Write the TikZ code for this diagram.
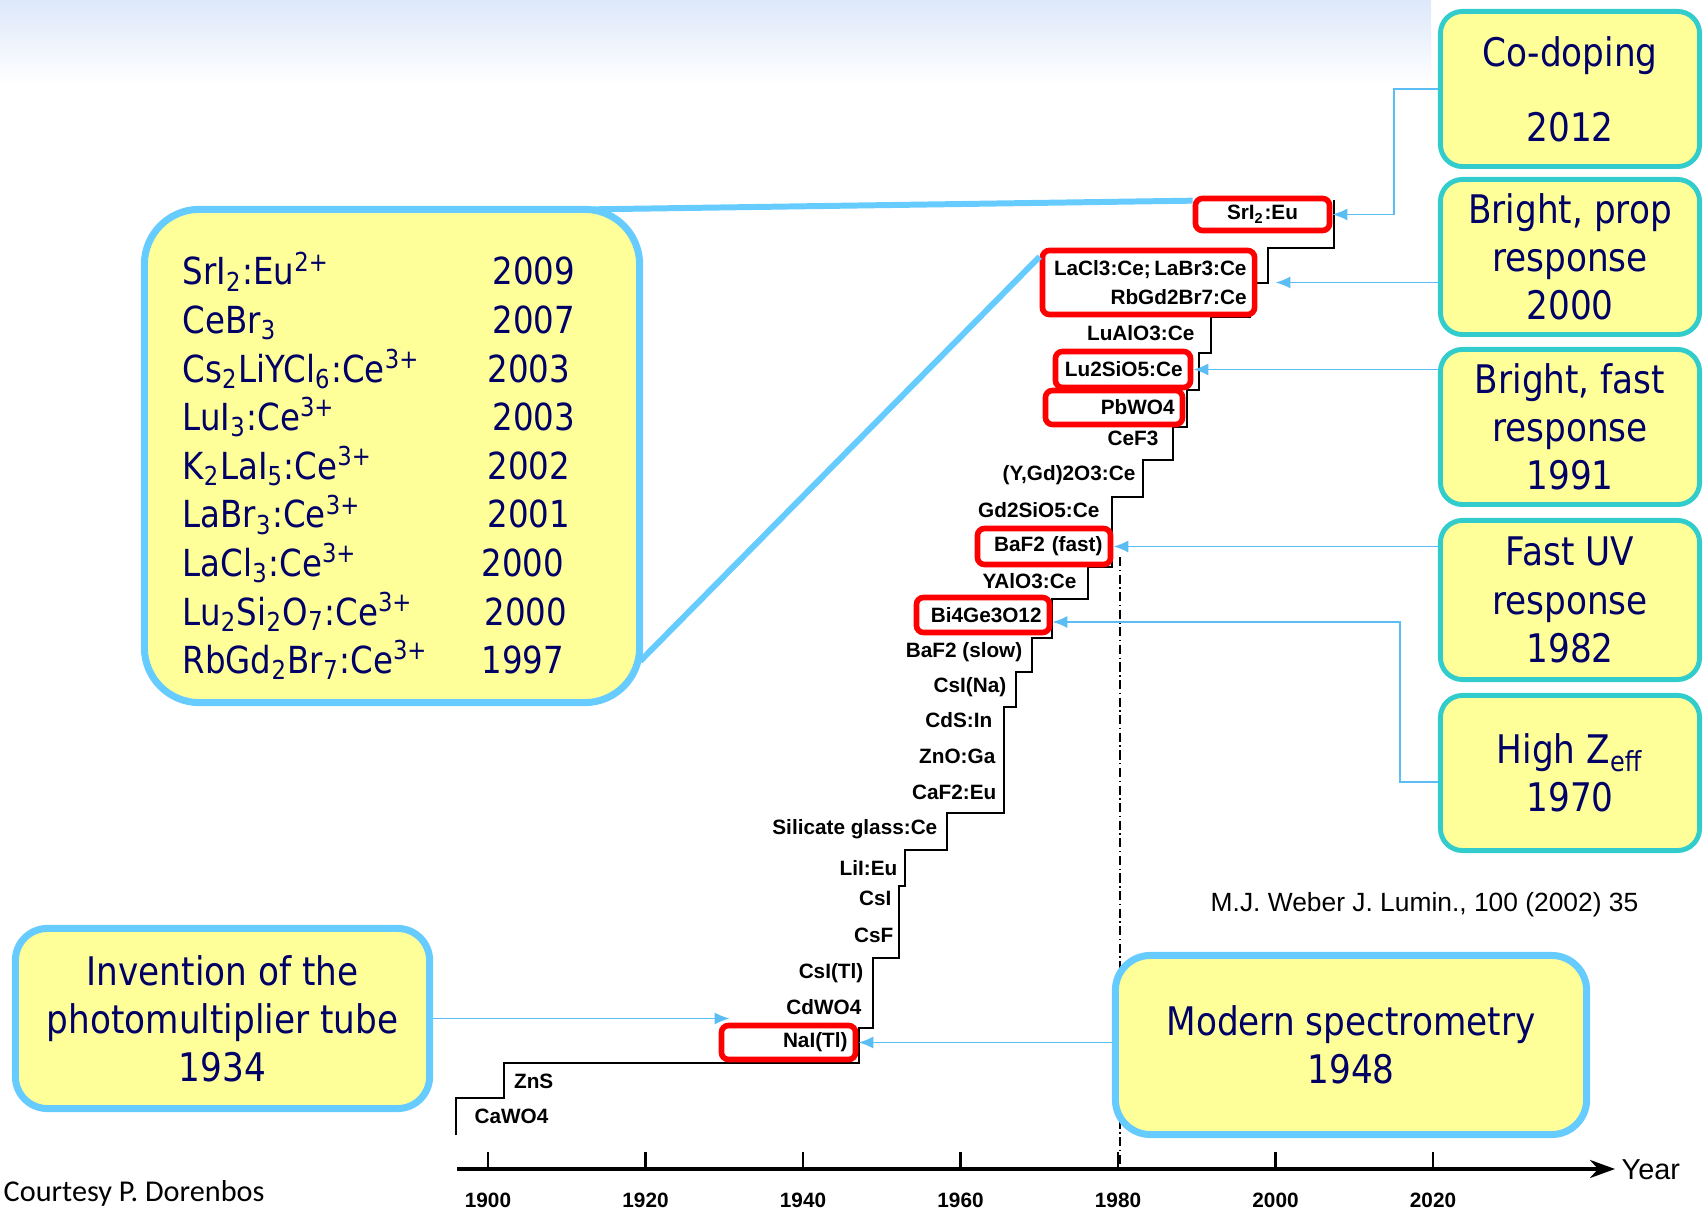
\documentclass[tikz,border=0pt]{standalone}
\usepackage{fontspec}
\setmainfont{Liberation Sans}
\newfontfamily\boxfont[FakeStretch=0.87]{DejaVu Sans}
\newfontfamily\notefont{Carlito}
\usetikzlibrary{arrows.meta,calc}
\definecolor{cNavy}{RGB}{0,0,102}
\definecolor{cYellow}{RGB}{255,255,153}
\definecolor{cTeal}{RGB}{51,204,204}
\definecolor{cSky}{RGB}{102,204,255}
\definecolor{cArrow}{RGB}{90,190,245}
\definecolor{cTop}{RGB}{221,232,250}
\tikzset{crystal/.style={
  anchor=east,
  inner sep=0,
  font=\fontsize{5.9}{7}\selectfont\bfseries,
  }
}
\tikzset{redbox/.style={
  draw=red,
  fill=white,
  line width=1.6pt,
  rounded corners=0.07cm,
  inner xsep=0.08cm,
  inner ysep=0,
  align=right,
  font=\fontsize{5.9}{8.25}\selectfont\bfseries,
  }
}
\tikzset{tealbox/.style={
  draw=cTeal,
  fill=cYellow,
  line width=1.4pt,
  rounded corners=0.22cm,
  minimum width=2.59cm,
  minimum height=1.55cm,
  inner sep=0,
  align=center,
  text=cNavy,
  font=\boxfont\fontsize{11.2}{13.7}\selectfont,
  }
}
\tikzset{skybox/.style={
  draw=cSky,
  fill=cYellow,
  line width=2pt,
  rounded corners=0.32cm,
  inner sep=0,
  align=center,
  text=cNavy,
  font=\boxfont\fontsize{11.2}{13.7}\selectfont,
  }
}
\tikzset{listrow/.style={
  anchor=base west,
  inner sep=0,
  text=cNavy,
  font=\boxfont\fontsize{10.6}{12}\selectfont,
  }
}
\tikzset{pointer/.style={
  draw=cArrow,
  line width=0.5pt,
  -{Latex[length=0.15cm,width=0.12cm]},
  }
}
\tikzset{callout/.style={
  draw=cSky,
  line width=1.7pt,
  }
}
\begin{document}
\begin{tikzpicture}[x=0.01cm,y=-0.01cm]
  \useasboundingbox (0,0) rectangle (1703,1210);
  \shade[top color=cTop, bottom color=white] (0,0) rectangle (1431,85);

  % time axis
  \node[anchor=west, inner sep=0, font=\fontsize{8.2}{10}\selectfont] (yr) at (1621,1170) {Year};
  \coordinate (o) at (457,1169);
  \draw[line width=1.1pt, -{Stealth[length=0.25cm,width=0.18cm]}] (o) -- ([xshift=-0.06cm]o -| yr.west);
  \foreach \yy in {1900,1920,...,2020} {
    \draw[line width=0.6pt] ({488+(\yy-1900)*7.875},1152) -- ++(0,17);
    \node[anchor=base, inner sep=0, font=\fontsize{5.9}{7}\selectfont\bfseries] (t\yy) at ({488+(\yy-1900)*7.875},1207) {\yy};
  }
  \draw[line width=0.5pt, dash pattern=on 2.6pt off 1pt on 0.4pt off 1pt] (1120,557) -- (1120,1169);

  % staircase
  \draw[line width=0.6pt] (456,1135) -- (456,1098) -- (504,1098) -- (504,1063) -- (859,1063) -- (859,1028)
    -- (873,1028) -- (873,958) -- (899,958) -- (899,886) -- (905,886) -- (905,850) -- (947,850) -- (947,813)
    -- (1004,813) -- (1004,707) -- (1016,707) -- (1016,672) -- (1032,672) -- (1032,638) -- (1052,638)
    -- (1052,599) -- (1088,599) -- (1088,567) -- (1112,567) -- (1112,497) -- (1143,497) -- (1143,460)
    -- (1173,460) -- (1173,427) -- (1187,427) -- (1187,390) -- (1199,390) -- (1199,353) -- (1211,353)
    -- (1211,317) -- (1250,317) -- (1250,283) -- (1268,283) -- (1268,248) -- (1334,248) -- (1334,200);
  \foreach \x/\y/\t [count=\k] in {549/1116/CaWO4, 554/1081/ZnS, 862/1007/CdWO4, 864/973/CsI(Tl),
      894/935/CsF, 892/898/CsI, 898/868/LiI:Eu, 938/829/Silicate glass:Ce, 997/792/CaF2:Eu,
      996/756/ZnO:Ga, 993/720/CdS:In, 1007/687/CsI(Na), 1023/652/BaF2 (slow), 1077/581/YAlO3:Ce,
      1100/510/Gd2SiO5:Ce, 1136/475/{(Y,Gd)2O3:Ce}, 1159/438/CeF3, 1195/333/LuAlO3:Ce}
    \node[crystal] (c\k) at (\x,\y) {\t};

  \node[redbox, align=center, minimum width=1.34cm, minimum height=0.32cm] (sri) at (1262.5,214.5) {SrI\textsubscript{2}:Eu};
  \node[redbox, text width=1.96cm, minimum height=0.64cm] (lacl) at (1148.5,282.5) {LaCl3:Ce;\,LaBr3:Ce\\RbGd2Br7:Ce\hspace{0.08cm}};
  \node[redbox, text width=1.19cm, minimum height=0.36cm] (lso) at (1123,369.5) {Lu2SiO5:Ce};
  \node[redbox, text width=1.21cm, minimum height=0.34cm] (pwo) at (1114,407.5) {PbWO4};
  \node[redbox, text width=1.17cm, minimum height=0.36cm] (baf) at (1044,546.5) {BaF2 (fast)};
  \node[redbox, text width=1.17cm, minimum height=0.35cm] (bgo) at (983,615) {Bi4Ge3O12};
  \node[redbox, text width=1.18cm, minimum height=0.34cm] (nai) at (788.5,1042.5) {NaI(Tl)};

  % callouts
  \node[skybox, minimum width=4.95cm, minimum height=4.93cm, rounded corners=0.55cm] (scint) at (392,456) {};
  \foreach \f/\yy/\xx [count=\k from 0] in {
      SrI\textsubscript{2}:Eu\textsuperscript{2+}/2009/492,
      CeBr\textsubscript{3}/2007/492,
      Cs\textsubscript{2}LiYCl\textsubscript{6}:Ce\textsuperscript{3+}/2003/487,
      LuI\textsubscript{3}:Ce\textsuperscript{3+}/2003/492,
      K\textsubscript{2}LaI\textsubscript{5}:Ce\textsuperscript{3+}/2002/487,
      LaBr\textsubscript{3}:Ce\textsuperscript{3+}/2001/487,
      LaCl\textsubscript{3}:Ce\textsuperscript{3+}/2000/481,
      Lu\textsubscript{2}Si\textsubscript{2}O\textsubscript{7}:Ce\textsuperscript{3+}/2000/484,
      RbGd\textsubscript{2}Br\textsubscript{7}:Ce\textsuperscript{3+}/1997/481} {
    \node[listrow] (f\k) at (182,{285+48.6*\k}) {\f};
    \node[listrow] (y\k) at (\xx,{285+48.6*\k}) {\yy};
  }
  \draw[callout] ($(scint.north east)+(-50,3.5)$) -- ($(sri.north west)+(0,5)$);
  \draw[callout] ($(scint.south east)+(-3,-45)$) -- ($(lacl.north west)+(0,9)$);

  \node[skybox, minimum width=4.14cm, minimum height=1.80cm] (pmt) at (222.5,1018.5) {Invention of the\\photomultiplier tube\\1934};
  \node[skybox, minimum width=4.71cm, minimum height=1.79cm, rounded corners=0.35cm] (modern) at (1351,1045) {Modern spectrometry\\1948};

  \node[tealbox] (codop) at (1570,89) {Co-doping\\[0.27cm]2012};
  \node[tealbox] (bprop) at (1570,257) {Bright, prop\\response\\2000};
  \node[tealbox] (bfast) at (1570,427) {Bright, fast\\response\\1991};
  \node[tealbox, minimum height=1.59cm] (fastuv) at (1570,600) {Fast UV\\response\\1982};
  \node[tealbox] (highz) at (1570,773) {High Z\textsubscript{eff}\hspace{0.32cm}\\1970\hspace{0.32cm}};

  % pointers
  \draw[pointer] (codop.west) -- ++(-44,0) |- (sri.east);
  \draw[pointer] (lacl.east -| bprop.west) -- ([xshift=0.18cm]lacl.east);
  \draw[pointer] (lso.east -| bfast.west) -- (lso.east);
  \draw[pointer] (baf.east -| fastuv.west) -- (baf.east);
  \draw[pointer] ([yshift=-0.09cm]highz.west) -- ++(-38,0) |- ([yshift=-0.07cm]bgo.east);
  \coordinate (pmtend) at ($(nai.north west)+(11,0)$);
  \draw[pointer] (pmt.east) -- (pmt.east -| pmtend);
  \draw[pointer] (nai.east -| modern.west) -- (nai.east);

  \node[anchor=west, inner sep=0, font=\fontsize{7.5}{9}\selectfont] (ref) at (1210,905) {M.J. Weber J. Lumin., 100 (2002) 35};
  \node[anchor=base west, inner sep=0, font=\notefont\fontsize{8.6}{10}\selectfont] (credit) at (3,1201) {Courtesy P. Dorenbos};
\end{tikzpicture}
\end{document}
